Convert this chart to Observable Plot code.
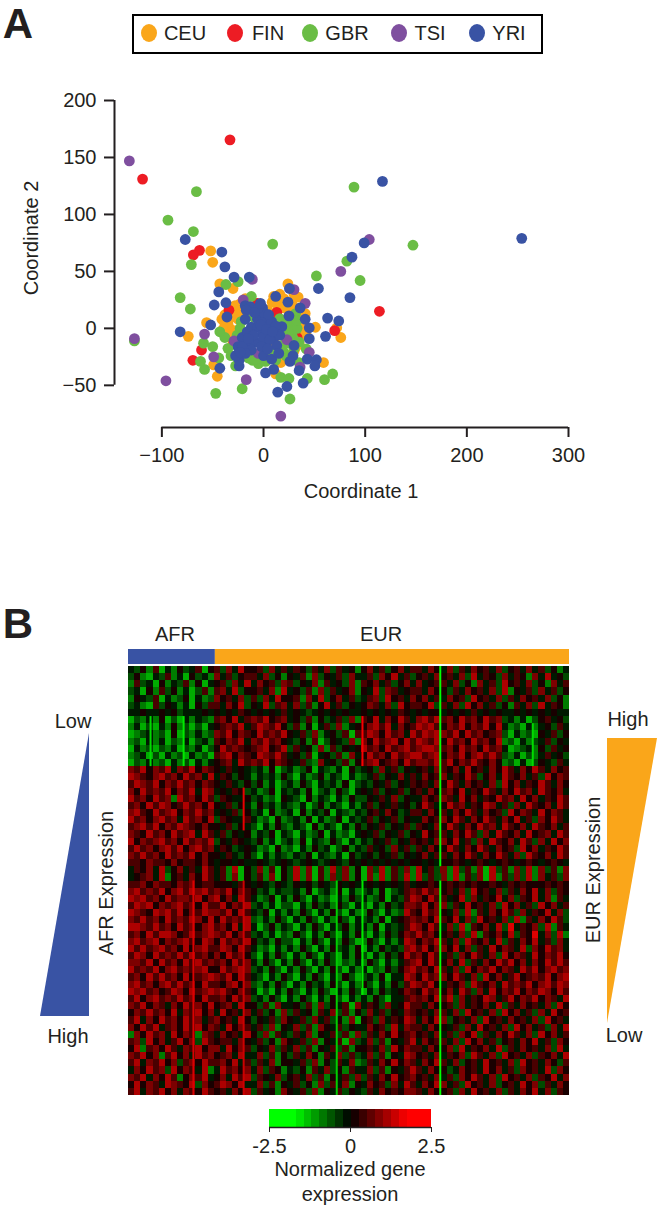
<!DOCTYPE html>
<html><head><meta charset="utf-8">
<script src="https://cdn.jsdelivr.net/npm/d3@7"></script>
<script src="https://cdn.jsdelivr.net/npm/@observablehq/plot@0.6"></script>
<style>
html,body{margin:0;padding:0;background:#fff}
#page{position:relative;width:661px;height:1209px;overflow:hidden;font-family:"Liberation Sans",Arial,sans-serif;color:#231f20}
#page svg{position:absolute;left:0;top:0;background:transparent}
.t{position:absolute;white-space:nowrap;transform:translate(-50%,-50%);font-size:20px;line-height:1.1}
</style></head><body><div id="page"></div>
<script>
// ---------- Panel A data (Coordinate 1, Coordinate 2) ----------
const popNames = ["CEU","FIN","GBR","TSI","YRI"];
const popColors = ["#FAA61A","#ED1C24","#6ABD45","#7F4F9F","#3953A4"];
const ceu = [[-52,68],[-50,58],[-43,39],[-42,38],[-30,35],[24,39],[34,27.5],[8.5,23],[-23,21.5],[41,13],[51,1],[72,0.5],[76,-8],[59,-30],[-45.5,-42],[-49,-32],[-74,-7],[-56,5],[-41,8],[-34,1],[-27.5,10],[-24,16],[-32,-3],[7,10],[4,16],[35,-13],[20,26],[27,1],[17,-30],[12,-40],[4,-16],[-38,4],[-30,-8],[-20,-5],[14,20],[30,12],[38,-2],[-15,12],[22,-8],[10,-12],[-35,5],[-38,12],[-32,14],[-28,20],[-25,8],[-22,13],[-18,26],[-30,-12],[-28,-2],[10,28],[16,30],[20,18],[28,22],[35,10],[36,18],[38,6],[42,-6],[30,-20],[25,-25],[16,-26],[-35,-6],[-40,-1],[32,-16],[26,16],[30,30]];
const fin = [[-119,131],[-33,165.5],[-63,68.5],[-69,64.5],[-34,16],[-61,-19],[-69.5,-28],[-6,22],[70,-2],[13,14],[-29,-12],[114,15],[33,-8]];
const gbr = [[-66,120],[-94,95],[-69,85],[-71,56],[-25,41],[-37,38.5],[9,74],[82,59],[52,46],[95,42],[147,73],[89,124],[-82,27],[-72,17],[-12,28],[16,8.5],[31.5,13],[30,4],[33,0],[28,-6],[42,-18],[35,-30],[17,-43],[25,-44],[43,-44],[60,-45],[68,-40],[26,-62],[-21,-53],[-47,-57],[-58,-36],[-62,-29],[-44,-26],[-27.5,-33],[-35,-17.5],[-50,-16],[-59,-13],[-38,-8],[-43,-3],[-22,6],[-23,0],[-26,-6],[-11,-6],[-19,-22],[-5,-31],[-11,-28],[20,-21],[10,-24],[18,-15],[25,-13],[33,7],[-10,10],[-127,-11],[14,-5],[6,-20],[-22,-12],[-28,-14],[-15,-26],[-24,-18],[-17,-11],[24,-3],[30,-10],[35,-12],[22,4],[25,10],[30,-18],[22,-24],[-8,-27],[2,-29],[12,-28],[-32,-24]];
const tsi = [[-132,147],[104,78],[-127,-9],[-96,-46],[-11,43],[30,34],[41,22],[76,50],[-58,-5],[-17,-45],[17,-77],[-20,25],[23,-10],[36,-34],[45,-21],[-5,-22],[-49,-25],[-29,-11]];
const yri = [[-77,78],[-41,67],[-38,54],[-29,45],[-14,45],[-44,32],[-37,22.5],[-48.5,20.5],[-36,10],[-52,3],[-82,-3],[12,28],[24,23],[25.5,35],[36,18],[25,11],[41,8],[45,0.5],[45,-9],[63,9],[74,6.5],[61,-7],[30,-15],[29,-24],[26,-29],[43,-27],[52,-27.5],[50.5,-33],[35,-37],[39,-48],[10,-36],[2,-39],[23,-51],[14,-56],[-43,-35],[-24,-33],[-24,-28],[-27.5,-24],[-25,-16],[-21,-8],[-18,20],[-13,19],[-17,16],[-1,18],[-5,13],[-1,8.5],[-12,1],[-6,1],[2,1],[18,1.5],[-1,-5],[5,-3],[10,-8],[13,-15],[0,-12],[-8,-12],[-14,-15],[-21,-16],[-12,-19],[0,-24],[8,-27],[54,35],[87,62.5],[85,27],[99,75],[117,129],[254,79],[-18,8],[-6,8],[2,8],[8,6],[12,2],[-16,-3],[-10,-6],[0,-8],[6,-10],[16,-6],[-15,-9],[0,14],[-5,18],[-9,14],[5,12],[-3,3],[-2,-16],[4,-18],[-18,-22],[-23,-21],[15,-22],[-3,22],[3,-1],[9,-3]];
const popPoints = [ceu,fin,gbr,tsi,yri];
const xTicksA = [-100,0,100,200,300];
const yTicksA = [-50,0,50,100,150,200];

// ---------- Panel B data: heatmap levels by block, 0 = lowest (green) ... 9 = highest (red) ----------
const heatRows = [
"43526142534615 637485 563746 465364736452 574635746 6475 473647564735647463524",
"35214362415342 746356 647352 546273546374 463758463 5647 564738465374652748453",
"26341524362514 563748 475637 635472645372 657463574 7456 647352746385647352746",
"34152635241362 674835 564728 453627364572 548376456 6475 536475647382546374635",
"25436142351423 756473 637485 562748357463 467385647 5746 475638564736475647352",
"34216354241536 647583 548367 473625846354 576473856 6583 647385746352647384652",
"44544545344454 545465 454546 454345454544 545454654 5455 454546454544545454544",
"13242513142432 675846 768567 453625346372 658475864 7868 6758675867 342413 56453",
"24131425231314 567684 687685 362514637245 578684756 8786 5768576858 423142 45364",
"12342315132423 768576 586768 546372453616 687586748 6878 7685867567 314231 54635",
"23142413241342 657684 768675 435261354372 758678586 8768 5867586758 231423 46354",
"14231324132413 586765 678568 364527263545 867586786 7887 6758675867 412342 53645",
"23413142314231 678576 587686 453614536274 586758678 8678 5768578686 324132 46453",
"13242314231424 567486 768576 546327453625 678567586 7768 6857686575 231413 54364",
"76857684768576 546454 342513 423514324153 453746354 5647 657485647586475864756",
"87657867586748 465354 243425 314235243142 346354746 4756 746586357486574638576",
"68768576867576 546435 352413 425314342513 435463546 5647 586475647385746586475",
"75867685768487 454653 423514 342513425314 546354635 6475 675846586475867486574",
"86758672867586 365445 342315 431524314253 354647354 4756 764857465867485746586",
"67586875686758 546354 253424 324135243142 463546453 5864 586746587463748657486",
"78658678576867 454635 341523 415243514324 356475346 6475 647586475638576485764",
"86757867486758 365446 423152 342514235143 463546354 4756 758647586475846375864",
"67868576876575 546354 314253 243152431425 354635463 6547 586475867486574865746",
"76586758678486 463545 243514 314235142314 546354635 4856 647586374865748567486",
"85767867586768 354654 352413 425143253142 435463546 5647 758463748657486374857",
"68675786857867 465345 423152 314253413524 364537463 6475 586475864756385746586",
"76867586768575 546435 314243 243514324153 453546354 5746 647586475864738657486",
"66576657566575 455454 454345 434543454354 545454545 5454 556545654565456545654",
"46574835746486 462815 372615 382716283725 173826372 8463 728362718362738273627",
"45674825647586 462715 362715 382716273725 172826382 8363 728263718263738274637",
"66757665767566 555465 454354 354535435454 454545464 5565 565656556546565556565",
"78676857868786 768576 534243 342513425142 342513467 6867 564738564736475847365",
"87867586776857 857486 423514 253142314253 423514368 7586 645837465847365847264",
"68785767867586 685768 342413 314253425314 314253477 6857 736485647385746385746",
"87658786857687 768586 435142 425314253142 253142386 5867 547382647586374658473",
"76867586768758 586768 324253 142531425314 342514567 6758 658473856473826475863",
"88768675867578 675848 413524 314253143524 425143468 7586 473826574839465738264",
"67586887568678 768576 342413 253142531425 314253576 8675 564738265748365947382",
"78678576786587 586768 534253 314253142531 253142487 5768 647386574836475846374",
"86867867585786 687586 423142 425314253425 142534378 6857 758473648576483758674",
"68758676868675 758675 314253 142531431425 314253586 7586 463758647385764857685",
"77685867586867 675867 425314 253142531324 253142467 8586 574836475868574758686",
"86768578676785 586787 342531 425314253142 413253578 6758 647385768576486857867",
"67586867585678 768586 431425 314253142531 342514487 5867 758647385746856768578",
"78675786867586 657857 324253 142534253142 531425368 7685 465738657486768578687",
"87867568758678 786576 413142 531425314253 142534576 5867 574863748576857687586",
"68578676867586 675867 342531 425314253142 425314467 6758 683746587468576857648",
"76857647586758 567485 536274 453627354617 465374586 6475 563746574836475647385",
"57686758476857 485647 463527 364526473625 374635476 5647 647385647385746374856",
"68475867586746 756485 354637 546374635271 563746587 4758 735647385647564738564",
"75868467586857 648576 463725 473627546354 475638476 6475 546374856473857463748",
"27586748576276 475648 537264 364725463627 364758567 5647 463758364758647385746",
"67385746857386 566475 463527 546372546173 473625468 4756 647385746356475846375",
"58267586476857 748576 354736 473625463625 564738576 6475 573846574836475647384",
"76857268574867 567484 473625 364752647363 473625487 5647 465738647385647365748",
"68476857367586 675846 364725 546372536472 364758576 4758 647356485647385647536",
"47586738576482 486757 473652 435264735264 473625468 6475 534756485746375648375",
"76847586257684 574868 365473 564736254637 364758567 5647 463758647385647365847",
"58576487658375 687584 473625 463527364725 475637486 4758 746385647356485736475",
"68476857476586 564758 364527 546372546354 364756577 6475 563748564736475847365"
];
const heatColumns = 72;
// Single samples that stand out as thin lines: sample column, first and last row, value
const lineCol   = [50.9,50.9,50.9,3.6,9,38.2,66,18.8,10.6,34,38.2,18.8];
const lineFrom  = [0,29,30,7,7,7,8,17,30,30,30,30];
const lineTo    = [28,30,60,14,14,14,14,23,60,60,46,60];
const lineValue = [-1.9,-0.6,-2.2,-1.5,-1.6,1.7,-1.5,1.6,1.5,-1.4,-1.6,1.4];
const groupNames = ["AFR","EUR"];
const groupStart = [0,91];
const groupEnd = [91,462];
const groupColors = ["#3953A4","#FAA61A"];
const colorEdges = [-2.5,-1.68,-1.43,-1.19,-0.95,-0.7,-0.46,-0.21,0.03,0.28,0.52,0.77,1.01,1.26,1.5,1.75,2.5];
const colorTicks = [-2.5,0,2.5];
const colorTickLabels = ["-2.5","0","2.5"];
const wedgeRank = [0,1];
const wedgeWidth = [0,1];

const page = document.getElementById("page");
const W = 661, H = 1209, ink = "#231f20";
const heatColor = {type:"linear",domain:[-1.75,0,1.75],range:["#00ff00","#000000","#ff0000"],clamp:true,interpolate:"rgb"};
function add(opts){ page.appendChild(Plot.plot({width:W,height:H,style:{background:"transparent",fontFamily:"'Liberation Sans',Arial,sans-serif",color:ink},...opts})); }
function label(txt,cx,cy,rot,size,weight){
  const d=document.createElement("div"); d.className="t"; d.textContent=txt;
  d.style.left=cx+"px"; d.style.top=cy+"px";
  if(rot) d.style.transform="translate(-50%,-50%) rotate(-90deg)";
  if(size) d.style.fontSize=size+"px";
  if(weight) d.style.fontWeight=weight;
  page.appendChild(d);
}

// Panel A scatter
add({
  marginLeft:114,marginRight:93,marginTop:100,marginBottom:H-427,
  x:{domain:[-146.6,300]}, y:{domain:[-87,200]},
  marks:[
    ...popPoints.map((pts,i)=>Plot.dot(pts,{x:d=>d[0],y:d=>d[1],r:5.4,fill:popColors[i],stroke:"none"})),
    Plot.ruleX([-146.6],{y1:-50,y2:200,stroke:ink,strokeWidth:2}),
    Plot.ruleY([-87],{x1:-100,x2:300,stroke:ink,strokeWidth:2}),
    Plot.axisY({ticks:yTicksA,tickSize:10,strokeWidth:2,stroke:ink,fill:ink,fontSize:20,tickPadding:8,label:null}),
    Plot.axisX({ticks:xTicksA,tickSize:10,strokeWidth:2,stroke:ink,fill:ink,fontSize:20,tickPadding:10,label:null})
  ]
});

// Group bar above heatmap
add({
  marginLeft:128,marginRight:W-569,marginTop:649,marginBottom:H-664,
  x:{domain:[0,462],axis:null}, y:{domain:[0,1],axis:null},
  marks:[Plot.rect(groupNames,{x1:(d,i)=>groupStart[i],x2:(d,i)=>groupEnd[i],y1:0,y2:1,fill:(d,i)=>groupColors[i]})]
});

// Heatmap
const heatCells = heatRows.flatMap((row,r)=>Array.from(row.replace(/ /g,""),(c,col)=>({r,col,v:(+c-4.5)*0.34})));
add({
  marginLeft:128,marginRight:W-569,marginTop:666,marginBottom:H-1095,
  x:{domain:[0,heatColumns],axis:null}, y:{domain:[heatRows.length,0],axis:null},
  color:heatColor,
  marks:[
    Plot.rect(heatCells,{x1:"col",x2:d=>d.col+1,y1:"r",y2:d=>d.r+1,fill:"v",shapeRendering:"crispEdges"}),
    Plot.ruleX(lineCol,{x:d=>d,y1:(d,i)=>lineFrom[i],y2:(d,i)=>lineTo[i],stroke:(d,i)=>lineValue[i],strokeWidth:2})
  ]
});

// Colour key
add({
  marginLeft:269,marginRight:W-431,marginTop:1109,marginBottom:H-1127,
  x:{domain:[-2.5,2.5]}, y:{domain:[0,1],axis:null}, color:heatColor,
  marks:[
    Plot.rect(colorEdges.slice(1),{x1:(d,i)=>colorEdges[i],x2:d=>d,y1:0,y2:1,fill:(d,i)=>(colorEdges[i]+d)/2,shapeRendering:"crispEdges"}),
    Plot.ruleY([0],{stroke:ink,strokeWidth:1.5}),
    Plot.axisX({ticks:colorTicks,tickFormat:(d,i)=>colorTickLabels[i],tickSize:5,stroke:ink,fill:ink,fontSize:20,tickPadding:6,label:null})
  ]
});

// Expression wedges
const wedge = wedgeRank.map((rank,i)=>({rank,w:wedgeWidth[i]}));
add({
  marginLeft:40,marginRight:W-89,marginTop:733,marginBottom:H-1016,
  x:{domain:[1,0],axis:null}, y:{domain:[1,0],axis:null},
  marks:[Plot.areaX(wedge,{y:"rank",x:"w",fill:"#3953A4"})]
});
add({
  marginLeft:607,marginRight:W-657,marginTop:738,marginBottom:H-1023,
  x:{domain:[0,1],axis:null}, y:{domain:[0,1],axis:null},
  marks:[Plot.areaX(wedge,{y:"rank",x:"w",fill:"#FAA61A"})]
});

// Legend
const box=document.createElement("div");
box.style.cssText="position:absolute;left:132px;top:14px;width:407px;height:36px;border:2px solid #000;background:#fff";
page.appendChild(box);
const legendDot=[149,235,310,399,477], legendText=[185,268,347,430,509];
popNames.forEach((n,i)=>{
  const dot=document.createElement("div");
  dot.style.cssText=`position:absolute;left:${legendDot[i]-8}px;top:24px;width:16px;height:18px;border-radius:50%;background:${popColors[i]}`;
  page.appendChild(dot);
  label(n,legendText[i],33);
});

// Texts
label("A",18,24,false,42,"bold");
label("B",18,624,false,42,"bold");
label("Coordinate 1",361,491);
label("Coordinate 2",31,238,true);
groupNames.forEach((n,i)=>label(n,[175,381][i],634));
label("Low",73,721); label("High",68,1036);
label("AFR Expression",106,883,true);
label("High",628,719); label("Low",624,1035);
label("EUR Expression",593,870,true);
label("Normalized gene",350,1169); label("expression",350,1194);
</script></body></html>
